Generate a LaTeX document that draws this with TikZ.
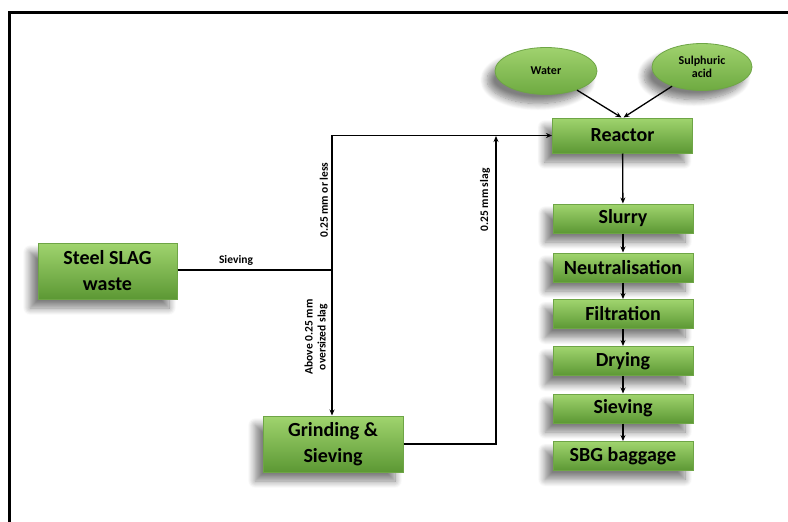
\documentclass[tikz,border=0pt]{standalone}
\usepackage{fontspec}
\setmainfont{Carlito}
\usetikzlibrary{shadows.blur,arrows.meta,shapes.geometric}
\definecolor{boxtop}{RGB}{160,212,110}
\definecolor{boxbot}{RGB}{92,152,52}
\definecolor{boxedge}{RGB}{110,165,70}
\definecolor{elltop}{RGB}{160,210,110}
\definecolor{ellbot}{RGB}{110,170,65}
\begin{document}
\begin{tikzpicture}[x=1pt,y=-1pt,
  shad/.style={blur shadow={shadow xshift=-8pt, shadow yshift=-9pt, shadow blur steps=10, shadow opacity=50, shadow blur radius=7pt}},
  box/.style={rectangle, draw=boxedge, line width=1pt, top color=boxtop, bottom color=boxbot, font=\bfseries\fontsize{20}{26}\selectfont, minimum width=140, minimum height=29, inner sep=0pt, align=center, shad},
  oval/.style={ellipse, draw=boxedge, line width=0.8pt, top color=elltop, bottom color=ellbot, font=\bfseries\fontsize{12}{13}\selectfont, minimum width=102, minimum height=47, inner sep=0pt, align=center, shad},
  line/.style={draw=black, line width=1.3pt},
  arr/.style={line, -{Stealth[length=6pt,width=5pt]}},
  lbl/.style={font=\bfseries\fontsize{11.5}{13}\selectfont, inner sep=0pt, align=center}
]
\useasboundingbox (0,0) rectangle (788,522);
\draw[line width=3pt] (9,12) rectangle (820,560);

\node[box, minimum width=139, minimum height=56] (steel) at (107.5,271) {Steel SLAG\\waste};
\node[box, minimum width=140, minimum height=56] (grind) at (333,444) {Grinding \&\\Sieving};
\node[box, minimum height=35] (reactor) at (622.5,135.5) {Reactor};
\node[box] (slurry) at (623,218.5) {Slurry};
\node[box] (neut) at (623,267.5) {Neutralisation};
\node[box] (filt) at (623,314) {Filtration};
\node[box] (dry) at (623,361) {Drying};
\node[box] (siev) at (623,408.5) {Sieving};
\node[box] (sbg) at (623,456) {SBG baggage};

\node[oval] (water) at (546,71) {Water};
\node[oval, minimum width=100] (acid) at (702,67) {Sulphuric\\acid};

\coordinate (j1) at (332,270);
\coordinate (j2) at (496,136);

\draw[line] (steel.east |- j1) -- (j1);
\draw[arr] (j1) |- (reactor.west);
\draw[arr] (j1) -- (j1 |- grind.north);
\draw[arr] (grind.east) -| (j2);

\draw[arr] (water) -- ([xshift=-1pt]reactor.north);
\draw[arr] (acid) -- ([xshift=1pt]reactor.north);
\draw[arr] (reactor) -- (slurry);
\draw[arr] (slurry) -- (neut);
\draw[arr] (neut) -- (filt);
\draw[arr] (filt) -- (dry);
\draw[arr] (dry) -- (siev);
\draw[arr] (siev) -- (sbg);

\node[lbl] (l1) at (236,260) {Sieving};
\node[lbl, rotate=90] (l2) at (324,200) {0.25 mm or less};
\node[lbl, rotate=90] (l3) at (316,337) {Above 0.25 mm\\oversized slag};
\node[lbl, rotate=90] (l4) at (485,200) {0.25 mm slag};
\end{tikzpicture}
\end{document}
